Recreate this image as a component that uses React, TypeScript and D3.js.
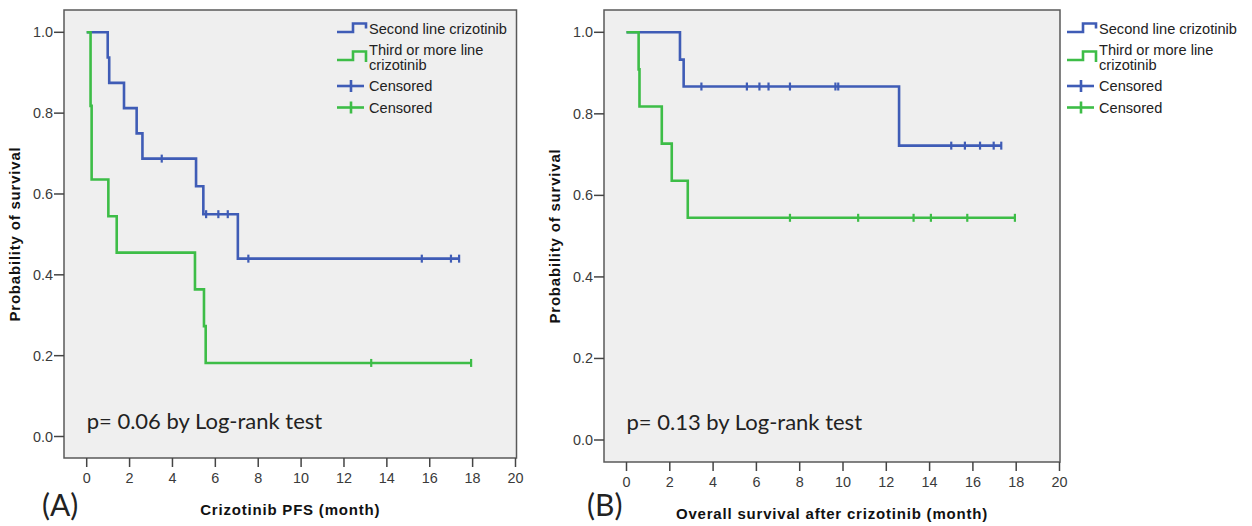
import * as d3 from 'd3'

// Kaplan-Meier step values
const xTicks = [0, 2, 4, 6, 8, 10, 12, 14, 16, 18, 20]
const yTicks = [0, 0.2, 0.4, 0.6, 0.8, 1.0]

// (A) PFS
const pfsSecondTimes = [0, 0.98, 1.05, 1.74, 2.33, 2.6, 5.1, 5.44, 7.05]
const pfsSecondSurv = [1, 0.9375, 0.875, 0.8125, 0.75, 0.6875, 0.619, 0.55, 0.44]
const pfsSecondCensored = [3.5, 5.57, 6.14, 6.58, 7.54, 15.63, 16.99, 17.37]
const pfsThirdTimes = [0, 0.18, 0.23, 1.01, 1.4, 5.05, 5.47, 5.55]
const pfsThirdSurv = [1, 0.818, 0.636, 0.545, 0.455, 0.364, 0.273, 0.182]
const pfsThirdCensored = [13.27, 17.93]

// (B) OS
const osSecondTimes = [0, 2.47, 2.64, 12.59]
const osSecondSurv = [1, 0.933, 0.867, 0.722]
const osSecondCensored = [3.46, 5.56, 6.14, 6.56, 7.55, 9.65, 9.78, 15.0, 15.63, 16.33, 16.96, 17.31]
const osThirdTimes = [0, 0.56, 0.6, 1.63, 2.09, 2.83]
const osThirdSurv = [1, 0.909, 0.818, 0.727, 0.636, 0.545]
const osThirdCensored = [7.55, 10.7, 13.26, 14.06, 15.74, 17.94]

const BLUE = '#3f5cb6'
const GREEN = '#3dbd47'
const TICK_FONT = '"Liberation Sans", Arial, sans-serif'
const BIG_FONT = 'Lato, "Open Sans", sans-serif'

type Curve = { times: number[]; surv: number[]; censored: number[]; color: string }

function Panel({ box, x0, x20, y0, y1, legendX, pBaseline, pText, label, labelX, xTitle, curves }: any) {
  const x = d3.scaleLinear().domain([0, 20]).range([x0, x20])
  const y = d3.scaleLinear().domain([0, 1]).range([y0, y1])

  const stepLine = d3
    .line<[number, number]>()
    .x(d => x(d[0]))
    .y(d => y(d[1]))
    .curve(d3.curveStepAfter)

  const survAt = (c: Curve, t: number) => {
    let s = c.surv[0]
    c.times.forEach((tt, i) => {
      if (tt <= t) s = c.surv[i]
    })
    return s
  }

  const cx = (box.left + box.right) / 2
  const cy = (box.top + box.bottom) / 2

  const legendRows = [
    { kind: 'step', color: BLUE, lines: ['Second line crizotinib'], y: 29, sy: 28 },
    { kind: 'step', color: GREEN, lines: ['Third or more line', 'crizotinib'], y: 50, sy: 56 },
    { kind: 'cens', color: BLUE, lines: ['Censored'], y: 86, sy: 86 },
    { kind: 'cens', color: GREEN, lines: ['Censored'], y: 107.5, sy: 107.5 },
  ]

  return (
    <g>
      <rect
        x={box.left}
        y={box.top}
        width={box.right - box.left}
        height={box.bottom - box.top}
        fill="#efefef"
        stroke="#595959"
        strokeWidth={1.5}
      />

      {/* y axis */}
      {yTicks.map(t => (
        <g key={'y' + t}>
          <line x1={box.left - 10} x2={box.left} y1={y(t)} y2={y(t)} stroke="#444" strokeWidth={1.5} />
          <text
            x={box.left - 11}
            y={y(t)}
            textAnchor="end"
            dominantBaseline="central"
            fontFamily={TICK_FONT}
            fontSize={14.4}
            fill="#3a3a3a"
          >
            {d3.format('.1f')(t)}
          </text>
        </g>
      ))}

      {/* x axis */}
      {xTicks.map(t => (
        <g key={'x' + t}>
          <line x1={x(t)} x2={x(t)} y1={box.bottom} y2={box.bottom + 9} stroke="#444" strokeWidth={1.5} />
          <text
            x={x(t)}
            y={box.bottom + 20}
            textAnchor="middle"
            dominantBaseline="central"
            fontFamily={TICK_FONT}
            fontSize={14.4}
            fill="#3a3a3a"
          >
            {t}
          </text>
        </g>
      ))}

      <text
        x={cx}
        y={box.bottom + 51}
        textAnchor="middle"
        dominantBaseline="central"
        fontFamily={TICK_FONT}
        fontWeight="bold"
        fontSize={15}
        letterSpacing={0.8}
        fill="#111"
      >
        {xTitle}
      </text>
      <text
        transform={`translate(${box.left - 50},${cy}) rotate(-90)`}
        textAnchor="middle"
        dominantBaseline="central"
        fontFamily={TICK_FONT}
        fontWeight="bold"
        fontSize={15}
        letterSpacing={0.8}
        fill="#111"
      >
        Probability of survival
      </text>

      {/* curves, green drawn last so it sits on top */}
      {curves.map((c: Curve, i: number) => {
        const end = Math.max(c.times[c.times.length - 1], ...c.censored)
        const pts: [number, number][] = c.times.map((t, j) => [t, c.surv[j]] as [number, number])
        pts.push([end, c.surv[c.surv.length - 1]])
        return (
          <g key={'c' + i}>
            <path d={stepLine(pts) || ''} fill="none" stroke={c.color} strokeWidth={2.6} />
            {c.censored.map((t, j) => (
              <line
                key={j}
                x1={x(t)}
                x2={x(t)}
                y1={y(survAt(c, t)) - 4}
                y2={y(survAt(c, t)) + 4}
                stroke={c.color}
                strokeWidth={2.2}
              />
            ))}
          </g>
        )
      })}

      {/* legend */}
      {legendRows.map((r, i) => (
        <g key={'l' + i}>
          {r.kind === 'step' ? (
            <path
              d={`M${legendX},${r.sy + 4}H${legendX + 16}V${r.sy - 4.5}H${legendX + 29}V${r.sy + (i === 1 ? 6 : 0.5)}`}
              fill="none"
              stroke={r.color}
              strokeWidth={2.6}
            />
          ) : (
            <g stroke={r.color} strokeWidth={2.6}>
              <line x1={legendX} x2={legendX + 27} y1={r.sy} y2={r.sy} />
              <line x1={legendX + 14} x2={legendX + 14} y1={r.sy - 6} y2={r.sy + 6} />
            </g>
          )}
          {r.lines.map((ln, k) => (
            <text
              key={k}
              x={legendX + 32}
              y={r.y + k * 14.5}
              dominantBaseline="central"
              fontFamily={TICK_FONT}
              fontSize={14.6}
              fill="#222"
            >
              {ln}
            </text>
          ))}
        </g>
      ))}

      <text x={x(0)} y={pBaseline} fontFamily={BIG_FONT} fontSize={22} fill="#222">
        {pText}
      </text>
      <text x={labelX} y={516} fontFamily={BIG_FONT} fontSize={30} fill="#222">
        {label}
      </text>
    </g>
  )
}

export default function App() {
  const curvesA: Curve[] = [
    { times: pfsSecondTimes, surv: pfsSecondSurv, censored: pfsSecondCensored, color: BLUE },
    { times: pfsThirdTimes, surv: pfsThirdSurv, censored: pfsThirdCensored, color: GREEN },
  ]
  const curvesB: Curve[] = [
    { times: osSecondTimes, surv: osSecondSurv, censored: osSecondCensored, color: BLUE },
    { times: osThirdTimes, surv: osThirdSurv, censored: osThirdCensored, color: GREEN },
  ]
  return (
    <svg
      width={1252}
      height={526}
      style={{ position: 'absolute', left: 0, top: 0, background: '#fff' }}
    >
      <Panel
        box={{ left: 64, right: 516.5, top: 10, bottom: 458 }}
        x0={86.7}
        x20={515.5}
        y0={436.5}
        y1={32.3}
        legendX={337}
        pBaseline={429}
        pText="p= 0.06 by Log-rank test"
        label="(A)"
        labelX={42}
        xTitle="Crizotinib PFS (month)"
        curves={curvesA}
      />
      <Panel
        box={{ left: 604, right: 1060, top: 10, bottom: 462 }}
        x0={626.5}
        x20={1059.5}
        y0={440}
        y1={32.3}
        legendX={1067}
        pBaseline={430}
        pText="p= 0.13 by Log-rank test"
        label="(B)"
        labelX={587}
        xTitle="Overall survival after crizotinib (month)"
        curves={curvesB}
      />
    </svg>
  )
}
